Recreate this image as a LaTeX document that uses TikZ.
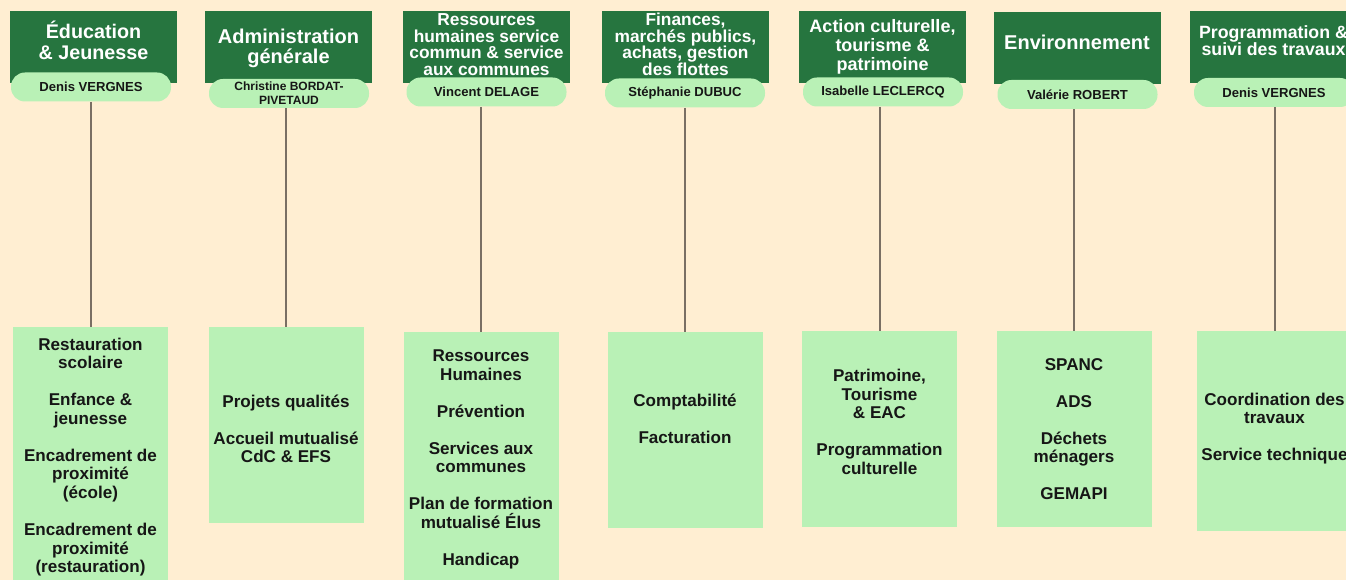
\documentclass[tikz,border=0pt]{standalone}
\usepackage{fontspec}
\setmainfont{Liberation Sans}

\definecolor{fond}{RGB}{255,238,210}
\definecolor{vertfonce}{RGB}{38,117,63}
\definecolor{vertclair}{RGB}{185,241,182}
\definecolor{gristige}{RGB}{122,111,100}
\definecolor{encre}{RGB}{22,22,22}

\tikzset{
	entete/.style = {fill=vertfonce, minimum width=125.25pt, minimum height=54pt, anchor=north, inner sep=0pt},
	titre/.style = {text=white, align=center, inner sep=0pt},
	nom/.style = {fill=vertclair, text=encre, rounded corners=10.5pt, minimum width=120pt, minimum height=21.75pt, inner sep=0pt, align=center, font=\bfseries\fontsize{9.8}{11}\selectfont},
	pole/.style = {fill=vertclair, minimum width=116.25pt, minimum height=147pt, anchor=north, inner sep=0pt},
	liste/.style = {text=encre, inner sep=0pt, align=center, font=\bfseries\fontsize{12.8}{13.9}\selectfont},
	tige/.style = {draw=gristige, line width=1.5pt},
}

\begin{document}
\begin{tikzpicture}[x=0.75pt, y=-0.75pt]
		% fond
		\clip (0,0) rectangle (1346,580);
		\fill [fond] (0,0) rectangle (1346,580);
		% en-têtes
		\node [entete] (h1) at (93.5,11) {};
		\node [entete] (h2) at (288.5,11) {};
		\node [entete] (h3) at (486.5,11) {};
		\node [entete] (h4) at (685.5,11) {};
		\node [entete] (h5) at (882.5,11) {};
		\node [entete] (h6) at (1077,12) {};
		\node [entete] (h7) at (1273.5,11) {};
		\node [titre, font=\bfseries\fontsize{14.8}{16.2}\selectfont] (t1) at (93.5,40.5) {Éducation\\\& Jeunesse};
		\node [titre, font=\bfseries\fontsize{15}{15.5}\selectfont] (t2) at (288.5,48.5) {Administration\\générale};
		\node [titre, font=\bfseries\fontsize{13}{12.4}\selectfont] (t3) at (486.5,44.5) {Ressources\\humaines service\\commun \& service\\aux communes};
		\node [titre, font=\bfseries\fontsize{13}{12.4}\selectfont] (t4) at (685.5,44.5) {Finances,\\marchés publics,\\achats, gestion\\des flottes};
		\node [titre, font=\bfseries\fontsize{13.5}{14.4}\selectfont] (t5) at (882.5,47) {Action culturelle,\\tourisme \&\\patrimoine};
		\node [titre, font=\bfseries\fontsize{15}{16}\selectfont] (t6) at (1077,42) {Environnement};
		\node [titre, font=\bfseries\fontsize{13.3}{12.75}\selectfont] (t7) at (1273.5,40.5) {Programmation \&\\suivi des travaux};
		% responsables
		\node [nom] (p1) at (91,87) {Denis VERGNES};
		\node [nom, font=\bfseries\fontsize{9}{10.2}\selectfont] (p2) at (289,93.5) {Christine BORDAT-\\PIVETAUD};
		\node [nom] (p3) at (486.5,92) {Vincent DELAGE};
		\node [nom] (p4) at (685,93) {Stéphanie DUBUC};
		\node [nom] (p5) at (883,92) {Isabelle LECLERCQ};
		\node [nom] (p6) at (1077.5,94.5) {Valérie ROBERT};
		\node [nom] (p7) at (1274,92.5) {Denis VERGNES};
		% services
		\node [pole, minimum height=200pt] (b1) at (90.5,327) {};
		\node [pole] (b2) at (286,327) {};
		\node [pole, minimum height=200pt] (b3) at (481,332) {};
		\node [pole] (b4) at (685,332) {};
		\node [pole] (b5) at (879.5,331) {};
		\node [pole] (b6) at (1074,331) {};
		\node [pole, minimum height=150pt] (b7) at (1274.5,331) {};
		\node [liste] (l1) at (90.5,457) {Restauration\\scolaire\\[13.9pt]Enfance \&\\jeunesse\\[13.9pt]Encadrement de\\proximité\\(école)\\[13.9pt]Encadrement de\\proximité\\(restauration)};
		\node [liste] (l2) at (286,429) {Projets qualités\\[13.9pt]Accueil mutualisé\\CdC \& EFS};
		\node [liste] (l3) at (481,459.5) {Ressources\\Humaines\\[13.9pt]Prévention\\[13.9pt]Services aux\\communes\\[13.9pt]Plan de formation\\mutualisé Élus\\[13.9pt]Handicap};
		\node [liste] (l4) at (685,418.5) {Comptabilité\\[13.9pt]Facturation};
		\node [liste] (l5) at (879.5,422) {Patrimoine,\\Tourisme\\\& EAC\\[13.9pt]Programmation\\culturelle};
		\node [liste] (l6) at (1074,429) {SPANC\\[13.9pt]ADS\\[13.9pt]Déchets\\ménagers\\[13.9pt]GEMAPI};
		\node [liste] (l7) at (1274.5,428.5) {Coordination des\\travaux\\[13.9pt]Service technique};
		% liaisons
		\draw [tige] (p1.south -| b1) -- (b1);
		\draw [tige] (p2.south -| b2) -- (b2);
		\draw [tige] (p3.south -| b3) -- (b3);
		\draw [tige] (p4.south -| b4) -- (b4);
		\draw [tige] (p5.south -| b5) -- (b5);
		\draw [tige] (p6.south -| b6) -- (b6);
		\draw [tige] (p7.south -| b7) -- (b7);
	\end{tikzpicture}
\end{document}
